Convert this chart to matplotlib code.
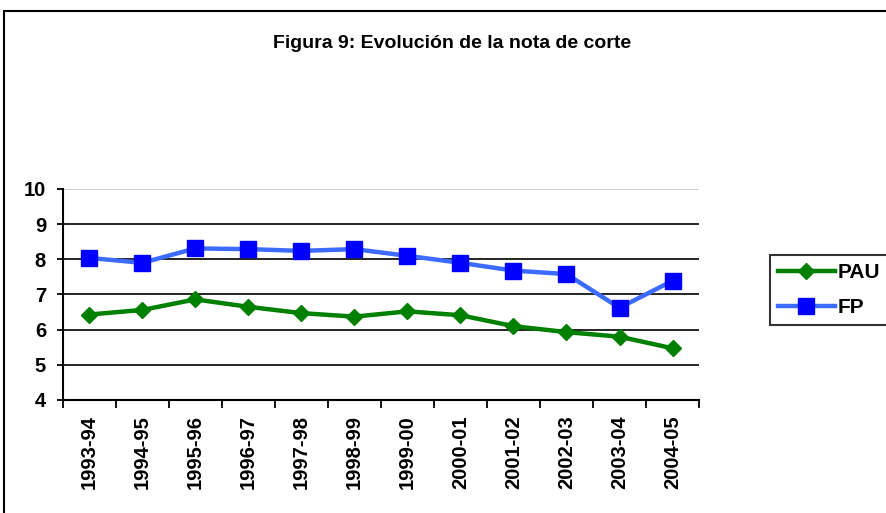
import numpy as np
import matplotlib.pyplot as plt
from matplotlib.patches import Rectangle

plt.rcParams['font.family'] = ['Liberation Sans', 'DejaVu Sans']

years = ['1993-94', '1994-95', '1995-96', '1996-97', '1997-98', '1998-99',
         '1999-00', '2000-01', '2001-02', '2002-03', '2003-04', '2004-05']
pau = [6.43, 6.56, 6.86, 6.65, 6.47, 6.37, 6.52, 6.41, 6.10, 5.93, 5.80, 5.47]
fp = [8.04, 7.90, 8.31, 8.29, 8.24, 8.29, 8.10, 7.90, 7.68, 7.58, 6.62, 7.39]

fig = plt.figure(figsize=(8.86, 5.13), dpi=100)
ax = fig.add_axes([0.0708, 0.2203, 0.7182, 0.4113])

x = np.arange(len(years))
l1, = ax.plot(x, pau, color='#008000', lw=3.2, marker='D', ms=8,
              mfc='#008000', mec='#008000', label='PAU')
l2, = ax.plot(x, fp, color='#3c6cff', lw=3.2, marker='s', ms=11,
              mfc='#0000ff', mec='#0000ff', label='FP')

ax.set_xlim(-0.5, len(years) - 0.5)
ax.set_ylim(4, 10)
ax.set_yticks(range(4, 11))
for v in range(5, 10):
    ax.axhline(v, color='black', lw=1.2, zorder=0)
ax.axhline(10, color='#c8c8c8', lw=1.2, zorder=0)

ax.set_xticks(x)
ax.set_xticklabels(years, rotation=90, fontweight='bold', fontsize=14.5)
ax.set_xticks(np.arange(-0.5, len(years)), minor=True)
ax.tick_params(axis='x', which='major', length=0, pad=11)
ax.tick_params(axis='x', which='minor', length=6, width=1.3, direction='out')
ax.tick_params(axis='y', length=4, width=1.3, labelsize=14.5, pad=8)
for t in ax.get_yticklabels():
    t.set_fontweight('bold')

for s in ['top', 'right']:
    ax.spines[s].set_visible(False)
ax.spines['left'].set_linewidth(1.5)
ax.spines['bottom'].set_linewidth(1.5)

fig.text(0.51, 0.915, 'Figura 9: Evolución de la nota de corte',
         ha='center', va='center', fontsize=14, fontweight='bold')

leg = fig.legend(handles=[l1, l2], loc='upper left',
                 bbox_to_anchor=(770 / 886, 1 - 255 / 513),
                 prop={'weight': 'bold', 'size': 15}, frameon=True,
                 fancybox=False, edgecolor='black', handlelength=2.7,
                 borderpad=0.4, labelspacing=0.75, handletextpad=0.15,
                 borderaxespad=0)
leg.get_frame().set_linewidth(1.5)

# outer chart frame
fig.patches.append(Rectangle((4 / 886, -0.1), 1.2, 1 - 11 / 513 + 0.1,
                             transform=fig.transFigure, fill=False,
                             edgecolor='black', lw=1.5))

fig.savefig('out.png', dpi=100)
